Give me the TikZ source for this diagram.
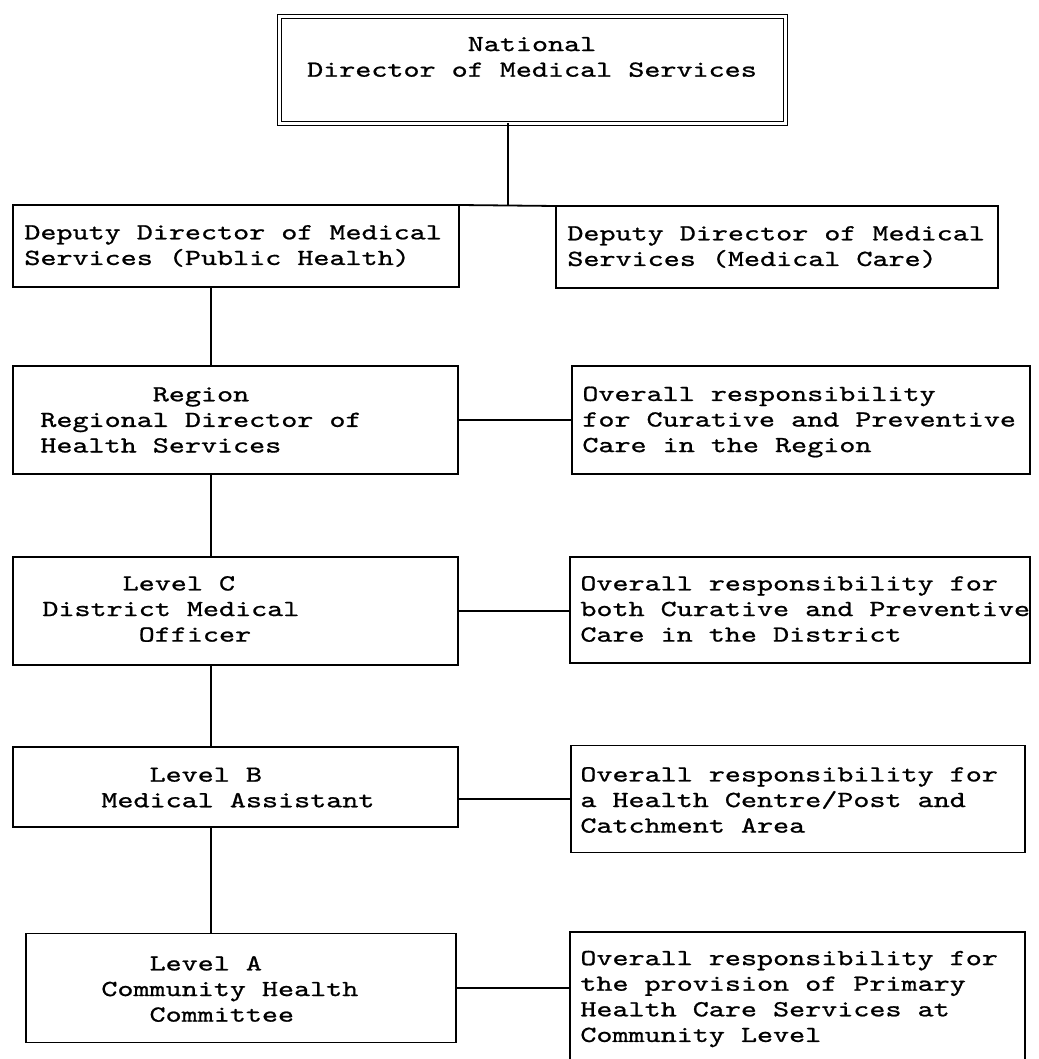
\documentclass[tikz,border=0pt]{standalone}
\usepackage{fontspec}
\newfontfamily\boxfont[Extension=.otf,FakeStretch=1.33,FakeBold=0.9]{lmmono10-regular}
\usetikzlibrary{positioning}

\begin{document}
\begin{tikzpicture}[
  x=.5pt,y=-.5pt,
  font=\boxfont\fontsize{11.5}{12.8}\selectfont,
  unitBox/.style={rectangle,draw=black,line width=.9pt,inner sep=0pt,outer sep=0pt},
  topBox/.style={rectangle,draw=black,line width=.7pt,double,double distance=1.2pt,inner sep=0pt,outer sep=0pt},
  boxText/.style={align=left,inner sep=0pt,anchor=west},
  link/.style={black,line width=.9pt}
]
\useasboundingbox (0,0) rectangle (1038,1059);
% national level
\node[topBox,minimum width=253pt,minimum height=53.5pt] (nat) at (532.5,70) {};
\node[align=center,inner sep=0pt] (natText) at (532,57) {National\\Director of Medical Services};
% deputy directors
\node[unitBox,minimum width=223pt,minimum height=41pt] (dph) at (236,246) {};
\node[unitBox,minimum width=221pt,minimum height=41pt] (dmc) at (777,247) {};
\node[boxText] (dphText) at (24,246) {Deputy Director of Medical\\Services (Public Health)};
\node[boxText] (dmcText) at (567,247) {Deputy Director of Medical\\Services (Medical Care)};
% region
\node[unitBox,minimum width=222.5pt,minimum height=54pt] (reg) at (235.5,420) {};
\node[unitBox,minimum width=229pt,minimum height=54pt] (regNote) at (801,420) {};
\node[boxText] (regText) at (40,420) {\hphantom{0000000}Region\\Regional Director of\\Health Services};
\node[boxText] (regNoteText) at (582,422) {Overall responsibility\\for Curative and Preventive\\Care in the Region};
% level C
\node[unitBox,minimum width=222.5pt,minimum height=54pt] (lvc) at (235.5,611) {};
\node[unitBox,minimum width=230pt,minimum height=53pt] (lvcNote) at (800,610) {};
\node[boxText] (lvcText) at (42,609) {\hphantom{00000}Level C\\District Medical\\\hphantom{000000}Officer};
\node[boxText] (lvcNoteText) at (580,609) {Overall responsibility for\\both Curative and Preventive\\Care in the District};
% level B
\node[unitBox,minimum width=222.5pt,minimum height=40pt] (lvb) at (235.5,787) {};
\node[unitBox,minimum width=227pt,minimum height=53.5pt] (lvbNote) at (798,799) {};
\node[boxText] (lvbText) at (101,787.5) {\hphantom{000}Level B\\Medical Assistant};
\node[boxText] (lvbNoteText) at (580,800) {Overall responsibility for\\a Health Centre/Post and\\Catchment Area};
% level A
\node[unitBox,minimum width=215pt,minimum height=54.5pt] (lva) at (241,988) {};
\node[unitBox,minimum width=227.5pt,minimum height=69pt] (lvaNote) at (797.5,1001) {};
\node[boxText] (lvaText) at (101,989) {\hphantom{000}Level A\\Community Health\\\hphantom{000}Committee};
\node[boxText] (lvaNoteText) at (580,999) {Overall responsibility for\\the provision of Primary\\Health Care Services at\\Community Level};
% connectors
\coordinate (natDrop) at (508,206);
\coordinate (spine) at (211,0);
\draw[link] (natDrop |- nat.south) -- (natDrop);
\draw[link] (dph.north east) -- (dmc.north west);
\draw[link] (spine |- dph.south) -- (spine |- reg.north);
\draw[link] (spine |- reg.south) -- (spine |- lvc.north);
\draw[link] (spine |- lvc.south) -- (spine |- lvb.north);
\draw[link] (spine |- lvb.south) -- (spine |- lva.north);
\draw[link] (reg.east) -- (regNote.west);
\draw[link] (lvc.east) -- (lvc.east -| lvcNote.west);
\draw[link] (lvbNote.west -| lvb.east) -- (lvbNote.west);
\draw[link] (lva.east) -- (lva.east -| lvaNote.west);
\end{tikzpicture}
\end{document}
